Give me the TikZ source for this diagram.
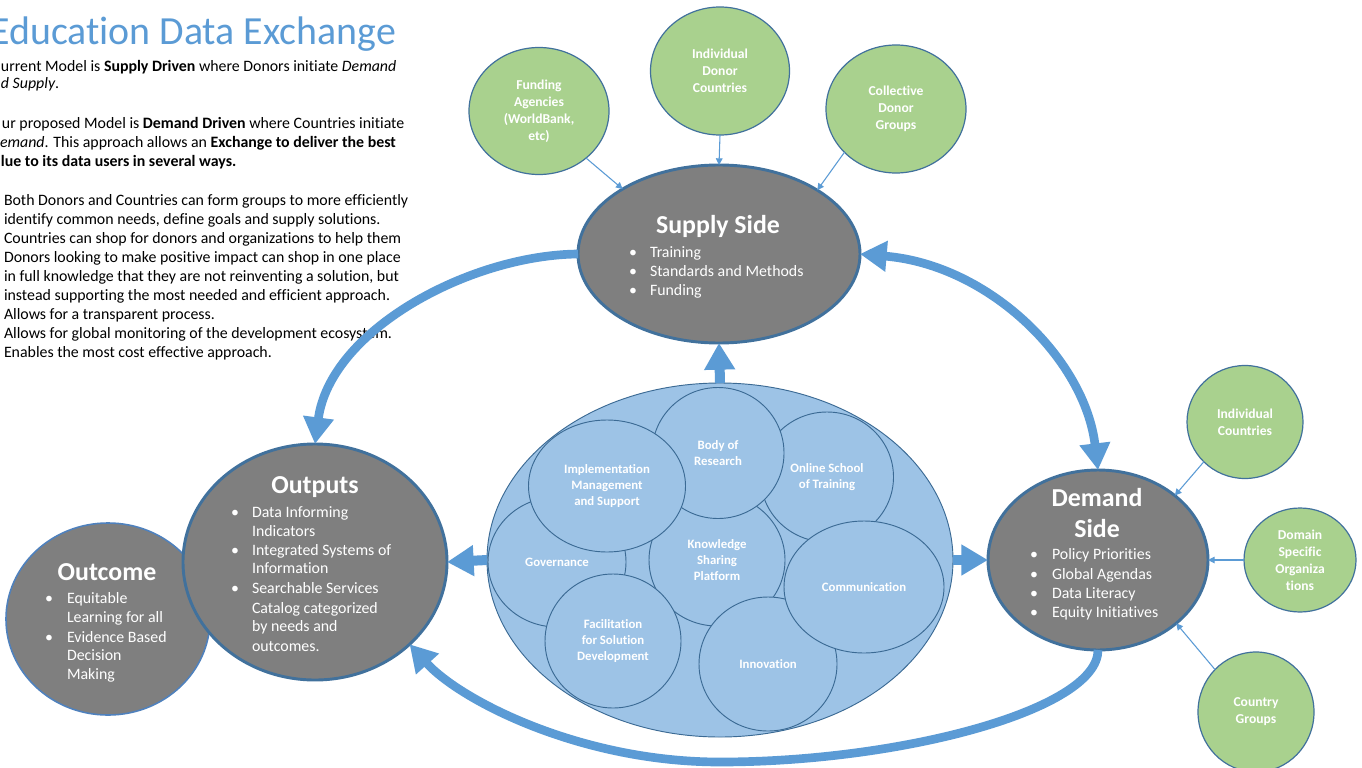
\documentclass[tikz,border=0pt]{standalone}
\usepackage{fontspec}
\setmainfont{Carlito}[Ligatures=NoCommon]
\usetikzlibrary{shapes.geometric,arrows.meta}
\definecolor{grayf}{HTML}{7F7F7F}
\definecolor{greenf}{HTML}{A9D18E}
\definecolor{lightb}{HTML}{9DC3E6}
\definecolor{edgeb}{HTML}{41719C}
\definecolor{inedge}{HTML}{3B6A94}
\definecolor{arrb}{HTML}{5B9BD5}
\definecolor{titleb}{HTML}{5B9BD5}
\definecolor{outcedge}{HTML}{4F81BD}
\newcommand\edxbody{\fontsize{11.9pt}{14.25pt}\selectfont}
\newcommand\edxttl{\fontsize{19.4pt}{23pt}\selectfont\bfseries}
\newcommand\edxgreen{\fontsize{10.2pt}{12.75pt}\selectfont\bfseries}
\newcommand\edxinner{\fontsize{9.6pt}{12.2pt}\selectfont\bfseries}
\newcommand\edxbul[5]{\node[wbul] (#1b) at (#2,#4) {•}; \node[wtxt] (#1) at (#3,#4) {#5};}
\newcommand\edxln[4]{\node[wtxt] (#1) at (#2,#3) {#4};}
\tikzset{
  ov/.style n args={2}{ellipse, inner sep=0pt, outer sep=0pt, minimum width=#1*0.75pt, minimum height=#2*0.75pt},
  graybig/.style={fill=grayf, draw=edgeb, line width=2.2pt},
  greenc/.style={fill=greenf, draw=edgeb, line width=0.9pt, text=white, font=\edxgreen, align=center},
  innerc/.style={fill=lightb, draw=inedge, line width=0.7pt, text=white, font=\edxinner, align=center},
  txt/.style={inner sep=0pt, outer sep=0pt, anchor=base west, font=\edxbody},
  wtxt/.style={inner sep=0pt, outer sep=0pt, anchor=base west, font=\edxbody, text=white},
  wbul/.style={inner sep=0pt, outer sep=0pt, anchor=base, font=\edxbody, text=white},
  ttl/.style={inner sep=0pt, outer sep=0pt, anchor=base, font=\edxttl, text=white},
  bigtip/.tip={Triangle[length=20pt,width=22pt]},
  blocktip/.tip={Triangle[length=20pt,width=22pt]},
  thinarr/.style={draw=arrb, line width=0.8pt, -{Triangle[length=5pt,width=5pt]}},
  bigarr/.style={draw=arrb, line width=6.5pt, -bigtip},
  blockarr/.style={draw=arrb, line width=7.5pt, -blocktip},
}
\begin{document}
\begin{tikzpicture}[x=0.75pt,y=-0.75pt]
\useasboundingbox (0,0) rectangle (1362,767);
\clip (0,0) rectangle (1362,767);
\fill[white] (0,0) rectangle (1362,767);

% title and left text
\node[anchor=base west, inner sep=0pt, text=titleb, font=\fontsize{29.9pt}{35pt}\selectfont] (title) at (-10,45) {Education Data Exchange};
\node[txt] (p1a) at (1,71) {urrent Model is \textbf{Supply Driven} where Donors initiate \textit{Demand}};
\node[txt] (p1b) at (1,89) {\textit{d Supply}.};
\node[txt] (p2a) at (2,128) {ur proposed Model is \textbf{Demand Driven} where Countries initiate};
\node[txt] (p2b) at (0,147) {\textit{emand}. This approach allows an \textbf{Exchange to deliver the best}};
\node[txt] (p2c) at (1,166) {\textbf{lue to its data users in several ways.}};
\node[txt] (l1) at (4,205) {Both Donors and Countries can form groups to more efficiently};
\node[txt] (l2) at (4,224) {identify common needs, define goals and supply solutions.};
\node[txt] (l3) at (4,243) {Countries can shop for donors and organizations to help them};
\node[txt] (l4) at (4,262) {Donors looking to make positive impact can shop in one place};
\node[txt] (l5) at (4,281) {in full knowledge that they are not reinventing a solution, but};
\node[txt] (l6) at (4,300) {instead supporting the most needed and efficient approach.};
\node[txt] (l7) at (4,319) {Allows for a transparent process.};
\node[txt] (l8) at (4,338) {Allows for global monitoring of the development ecosystem.};
\node[txt] (l9) at (4,357) {Enables the most cost effective approach.};

% gray ellipses
\node[ov={204}{192}, fill=grayf, draw=outcedge, line width=1.2pt] (outcome) at (108,619) {};
\node[ov={264}{236}, graybig] (outputs) at (315,562) {};
\node[ov={282}{178}, graybig] (supply) at (719,254) {};
\node[ov={220}{180}, graybig] (demand) at (1098,560) {};

% green circles
\node[ov={140}{127}, greenc] (fund) at (539,111) {Funding\\Agencies\\(WorldBank,\\etc)};
\node[ov={139}{128}, greenc] (idc) at (720,71) {Individual\\Donor\\Countries};
\node[ov={140}{128}, greenc] (cdg) at (896,109) {Collective\\Donor\\Groups};
\node[ov={116}{113}, greenc] (indc) at (1245,422) {Individual\\Countries};
\node[ov={112}{104}, greenc] (dso) at (1300,560) {Domain\\Specific\\Organiza\\tions};
\node[ov={116}{120}, greenc] (cg) at (1256,712) {Country\\Groups};

% central exchange
\node[ov={466}{354}, fill=lightb, draw=inedge, line width=0.7pt] (central) at (720,560) {};
\node[ov={138}{130}, innerc] (gov) at (557,562) {Governance};
\node[ov={136}{132}, innerc] (know) at (717,560) {Knowledge\\Sharing\\Platform};
\node[ov={133}{130}, innerc] (online) at (827,477) {Online School\\of Training};
\node[ov={132}{131}, innerc] (body) at (718,453) {Body of\\Research};
\node[ov={157}{132}, innerc] (impl) at (607,486) {Implementation\\Management\\and Support};
\node[ov={136}{134}, innerc] (facil) at (613,641) {Facilitation\\for Solution\\Development};
\node[ov={138}{134}, innerc] (innov) at (768,664) {Innovation};
\node[ov={160}{132}, innerc] (comm) at (864,587) {Communication};

% texts in gray ellipses
\node[ttl] (suptitle) at (718,233) {Supply Side};
\edxbul{s1}{633}{650}{257}{Training}
\edxbul{s2}{633}{650}{276}{Standards and Methods}
\edxbul{s3}{633}{650}{295}{Funding}

\node[ttl] (outtitle) at (315,493) {Outputs};
\edxbul{o1}{235}{252}{517}{Data Informing}
\edxln{o1c}{252}{536}{Indicators}
\edxbul{o2}{235}{252}{555}{Integrated Systems of}
\edxln{o2c}{252}{573}{Information}
\edxbul{o3}{235}{252}{593}{Searchable Services}
\edxln{o3c}{252}{613}{Catalog categorized}
\edxln{o3d}{252}{631}{by needs and}
\edxln{o3e}{252}{651}{outcomes.}

\node[ttl] (octitle) at (107,580) {Outcome};
\edxbul{c1}{49}{67}{603}{Equitable}
\edxln{c1c}{67}{622}{Learning for all}
\edxbul{c2}{49}{67}{642}{Evidence Based}
\edxln{c2c}{67}{660}{Decision}
\edxln{c2d}{67}{679}{Making}

\node[ttl] (dtitle1) at (1097,506) {Demand};
\node[ttl] (dtitle2) at (1097,537) {Side};
\edxbul{d1}{1034}{1052}{559}{Policy Priorities}
\edxbul{d2}{1034}{1052}{579}{Global Agendas}
\edxbul{d3}{1034}{1052}{598}{Data Literacy}
\edxbul{d4}{1034}{1052}{617}{Equity Initiatives}

% thin arrows
\draw[thinarr] (fund.-45) -- (supply.146);
\draw[thinarr] (idc.south) -- (supply.north);
\draw[thinarr] (cdg.220) -- (supply.33);
\draw[thinarr] (indc.224) -- (demand.40);
\draw[thinarr] (dso.west) -- (demand.east);
\draw[thinarr] (cg.134) -- (demand.-39);

% big arrows
\draw[bigarr] (supply.west) .. controls (470,255) and (330,330) .. (outputs.north);
\draw[bigarr, bigtip-bigtip] (supply.east) .. controls (990,265) and (1085,360) .. (demand.north);
\draw[bigarr] (demand.south) .. controls (1098,710) and (900,762) .. (720,762) .. controls (580,762) and (460,700) .. (outputs.-41);

% block arrows
\draw[blockarr] (central.north) -- (supply.south);
\draw[blockarr] (central.west) -- (outputs.east);
\draw[blockarr] (central.east) -- (demand.west);
\end{tikzpicture}
\end{document}
